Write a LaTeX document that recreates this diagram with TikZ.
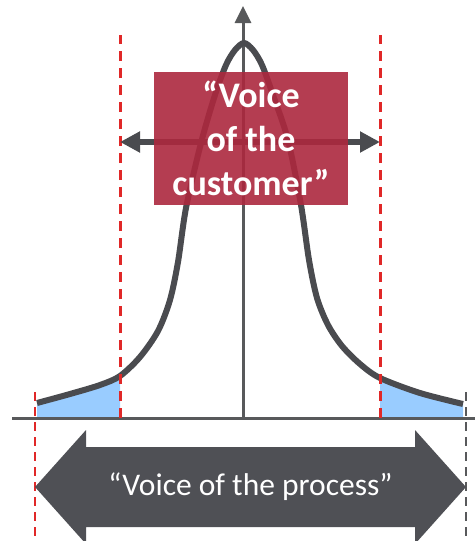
\documentclass[tikz,border=0pt]{standalone}
\usepackage{fontspec}
\setmainfont{Carlito}
\usetikzlibrary{arrows.meta}

\definecolor{axisgray}{RGB}{88,89,91}
\definecolor{curvegray}{RGB}{74,75,79}
\definecolor{speclimit}{RGB}{224,40,40}
\definecolor{tailblue}{RGB}{153,204,255}
\definecolor{vocred}{RGB}{172,40,62}
\definecolor{vopgray}{RGB}{79,80,85}

% the bell curve, used for the tails and for the line
\def\bellpath{plot[smooth,tension=0.5] coordinates {
  (37,403) (70,394) (100,385) (120,376) (140,357) (158,331) (170,300)
  (178,262) (186,208) (201,143) (215,95) (226,65) (235,50) (244,43)
  (253,50) (262,65) (273,95) (288,140) (301,205) (309,260) (317,298)
  (328,325) (342,346) (360,364) (380,378) (420,393) (463,404)}}

\begin{document}
\begin{tikzpicture}[x=1pt,y=-1pt,
  axis/.style={draw=axisgray,line width=3pt},
  limit/.style={speclimit,line width=3pt,dash pattern=on 10pt off 7pt},
  bell/.style={curvegray,line width=6pt}]
\clip (0,0) rectangle (475,541);

\coordinate (O) at (243,418);
\coordinate (xl) at (12,418);
\coordinate (xr) at (475,418);
\coordinate (ytop) at (243,6);
\coordinate (lsl) at (120,418);
\coordinate (usl) at (380,418);
\coordinate (vocL) at (120,142);
\coordinate (vocR) at (380,142);

% shaded tails outside the limits
\begin{scope}
\clip (37,0) rectangle (120,418) (380,0) rectangle (464,418);
\fill[tailblue] \bellpath -- (463,418) -- (37,418) -- cycle;
\end{scope}

\draw[axis] (xl) -- (xr);
\draw[axis,-{Triangle[length=17pt,width=16pt]}] (O) -- (ytop);
\draw[bell] \bellpath;

% spec limits
\draw[limit] (lsl) -- (lsl |- 0,35);
\draw[limit] (usl) -- (usl |- 0,35);
\draw[limit,line width=2.7pt,dash pattern=on 9pt off 6pt] (35,392) -- (35,541);
\draw[limit,axisgray,line width=2pt,dash pattern=on 9pt off 6pt] (466,392) -- (466,541);

\draw[curvegray,line width=6pt,{Triangle[length=20pt,width=20pt]}-{Triangle[length=20pt,width=20pt]}] (vocL) -- (vocR);

\node[fill=vocred,fill opacity=0.9,text opacity=1,text=white,
  minimum width=194pt,minimum height=133pt,align=center,
  font=\fontsize{36}{44}\selectfont\bfseries] (voc) at (251,138.5) {“Voice\\of the\\customer”};

% voice of the process
\fill[vopgray] (35,487) -- (86,430) -- (86,447) -- (415,447) -- (415,430)
  -- (466,487) -- (415,544) -- (415,527) -- (86,527) -- (86,544) -- cycle;
\node[text=white,font=\fontsize{31.5}{36}\selectfont] (vop) at (250.5,487) {“Voice of the process”};
\end{tikzpicture}
\end{document}
